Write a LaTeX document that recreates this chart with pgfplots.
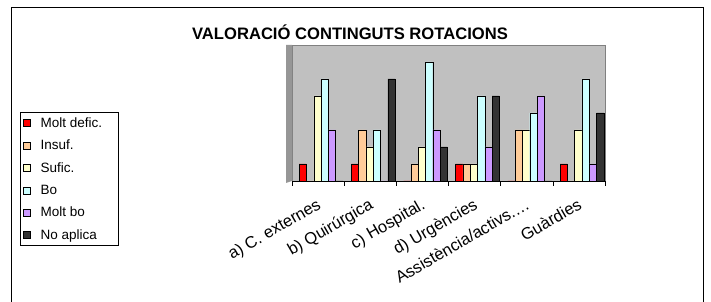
\documentclass[border=0pt]{standalone}
\usepackage{pgfplots}
\pgfplotsset{compat=1.18}
\usepackage{fontspec}
\setmainfont{Liberation Sans}
\definecolor{cRed}{HTML}{FF0000}
\definecolor{cIns}{HTML}{FFCC99}
\definecolor{cSuf}{HTML}{FFFFCC}
\definecolor{cBo}{HTML}{CCFFFF}
\definecolor{cMb}{HTML}{CC99FF}
\definecolor{cNa}{HTML}{333333}
\definecolor{wall}{HTML}{C0C0C0}
\definecolor{sidewall}{HTML}{969696}
\definecolor{floorc}{HTML}{B4B4B4}
\begin{document}
\begin{tikzpicture}[x=1pt,y=1pt]
\useasboundingbox (0,0) rectangle (711,302);
\draw[line width=1pt] (11,-2) -- (11,294) -- (703,294) -- (703,-2);
\node[font=\fontsize{16.6}{19}\selectfont\bfseries] at (350,270) {VALORACIÓ CONTINGUTS ROTACIONS};
\begin{axis}[
  at={(292pt,121pt)}, anchor=south west,
  scale only axis, width=313pt, height=136pt,
  xmin=-0.5, xmax=5.5, ymin=0, ymax=8,
  ybar=0pt, bar width=7.3pt,
  axis background/.style={fill=wall, draw=gray},
  axis x line*=bottom, axis y line=none,
  x axis line style={black, line width=0.6pt},
  xtick={0,1,2,3,4,5},
  xticklabels={a) C. externes, b) Quirúrgica, c) Hospital., d) Urgències, Assistència/activs.…, Guàrdies},
  major tick length=0pt,
  xticklabel style={rotate=30, anchor=north east, font=\fontsize{16.5}{18}\selectfont, inner sep=0pt, yshift=-13pt, xshift=-10pt},
  extra x ticks={-0.5,0.5,1.5,2.5,3.5,4.5,5.5},
  extra x tick labels={},
  extra x tick style={major tick length=5pt, tick align=outside, tick style={black, line width=0.6pt}},
  legend image code/.code={\draw[#1, draw=black, line width=0.4pt] (0pt,-3.5pt) rectangle (7pt,3.5pt); \path[draw=none, fill=none] (0pt,0pt) rectangle (15pt,0.1pt);},
  legend style={at={(-0.869,0.507)}, anchor=north west, draw=black, line width=0.8pt,
    font=\fontsize{13.5}{15}\selectfont, inner xsep=3pt, inner ysep=3pt, row sep=7.2pt},
  legend cell align=left,
  clip=false,
]
\fill[sidewall] ([xshift=-6pt,yshift=-2pt]rel axis cs:0,0) -- ([xshift=-6pt]rel axis cs:0,1) -- (rel axis cs:0,1) -- (rel axis cs:0,0) -- cycle;
\addplot[fill=cRed, draw=black, line width=0.4pt, bar shift=-15.25pt] coordinates {(0,1) (1,1) (2,0) (3,1) (4,0) (5,1)};
\addlegendentry{\makebox[73pt][l]{Molt defic.}}
\addplot[fill=cIns, draw=black, line width=0.4pt, bar shift=-7.95pt] coordinates {(0,0) (1,3) (2,1) (3,1) (4,3) (5,0)};
\addlegendentry{Insuf.}
\addplot[fill=cSuf, draw=black, line width=0.4pt, bar shift=-0.65pt] coordinates {(0,5) (1,2) (2,2) (3,1) (4,3) (5,3)};
\addlegendentry{Sufic.}
\addplot[fill=cBo, draw=black, line width=0.4pt, bar shift=6.65pt] coordinates {(0,6) (1,3) (2,7) (3,5) (4,4) (5,6)};
\addlegendentry{Bo}
\addplot[fill=cMb, draw=black, line width=0.4pt, bar shift=13.95pt] coordinates {(0,3) (1,0) (2,3) (3,2) (4,5) (5,1)};
\addlegendentry{Molt bo}
\addplot[fill=cNa, draw=black, line width=0.4pt, bar shift=21.25pt] coordinates {(0,0) (1,6) (2,2) (3,5) (4,0) (5,4)};
\addlegendentry{No aplica}
\end{axis}
\end{tikzpicture}
\end{document}
